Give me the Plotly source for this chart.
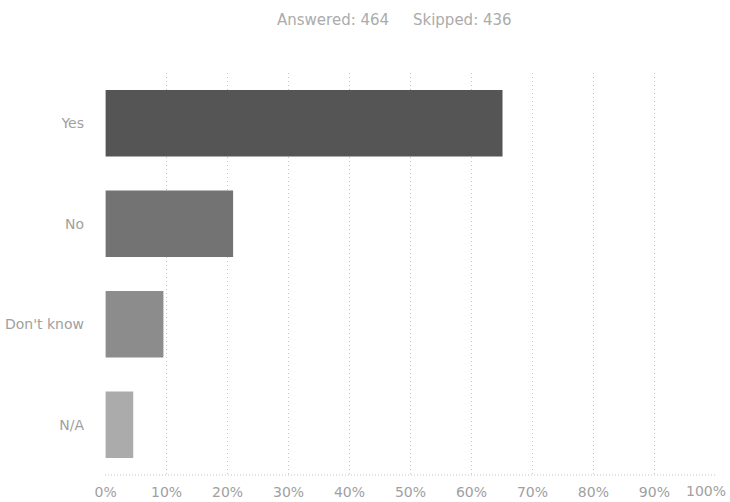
import plotly.graph_objects as go

# Survey responses (share of 464 answers)
categories = ["Yes", "No", "Don't know", "N/A"]
shares = [65.09, 20.91, 9.48, 4.53]
bar_colors = ["#555555", "#737373", "#8c8c8c", "#ababab"]
tick_values = [0, 10, 20, 30, 40, 50, 60, 70, 80, 90, 100]
tick_labels = [f"{v}%" for v in tick_values]
answered = 464
skipped = 436

FONT = "DejaVu Sans"
GRID = "#c4c4c4"
TICK_COLOR = "#a0a0a0"

fig = go.Figure(
    go.Bar(
        x=shares,
        y=categories,
        orientation="h",
        marker=dict(color=bar_colors, line=dict(width=0)),
        hoverinfo="x+y",
    )
)

gap = "\u00a0" * 5
annotations = [
    dict(
        text=f"Answered: {answered}{gap}Skipped: {skipped}",
        xref="paper", yref="paper",
        x=0.474, y=1.0, yshift=53,
        xanchor="center", yanchor="middle",
        showarrow=False,
        font=dict(family=FONT, size=15, color="#ababab"),
    ),
    # the last tick label is right-aligned so it stays on the page
    dict(
        text=tick_labels[-1],
        xref="x", yref="paper",
        x=tick_values[-1], y=0, xshift=13, yshift=-16,
        xanchor="right", yanchor="middle",
        showarrow=False,
        font=dict(family=FONT, size=14, color=TICK_COLOR),
    ),
]

fig.update_layout(
    width=730,
    height=502,
    margin=dict(l=105, r=14, t=73, b=27),
    paper_bgcolor="white",
    plot_bgcolor="white",
    bargap=0.34,
    showlegend=False,
    font=dict(family=FONT, color=TICK_COLOR, size=14),
    annotations=annotations,
)

fig.update_xaxes(
    range=[-0.1, 100.1],
    tickvals=tick_values,
    ticktext=tick_labels[:-1] + [""],
    showgrid=True,
    gridcolor=GRID,
    griddash="1px,3px",
    gridwidth=1,
    zeroline=False,
    showline=False,
    ticks="",
    ticklabelstandoff=7,
    ticklabeloverflow="allow",
    automargin=False,
    tickfont=dict(family=FONT, size=14, color=TICK_COLOR),
    fixedrange=True,
)

fig.update_yaxes(
    categoryorder="array",
    categoryarray=categories[::-1],
    showgrid=False,
    zeroline=False,
    showline=False,
    ticks="",
    ticklabelstandoff=20,
    automargin=False,
    tickfont=dict(family=FONT, size=14, color=TICK_COLOR),
    fixedrange=True,
)

# dotted frame along the bottom edge of the plot
fig.add_shape(
    type="line", xref="paper", yref="paper",
    x0=0, x1=1, y0=0, y1=0,
    line=dict(color=GRID, width=1, dash="1px,2px"),
)

fig.write_html("out.html")
